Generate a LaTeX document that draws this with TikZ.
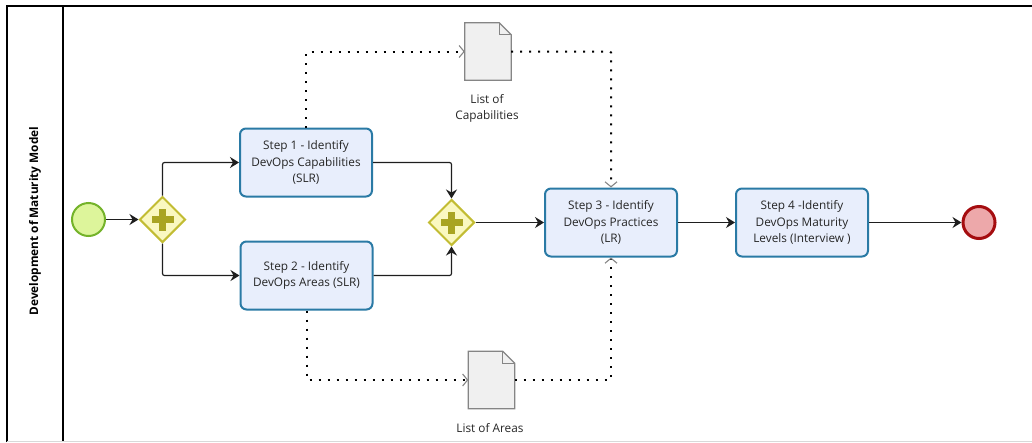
\documentclass[tikz,border=0pt]{standalone}
\usepackage{fontspec}
\setmainfont{Open Sans}
\usetikzlibrary{arrows.meta,shapes.geometric,calc}
\definecolor{taskfill}{HTML}{E8EEFC}
\definecolor{taskdraw}{HTML}{2A7AA5}
\definecolor{startfill}{HTML}{DDF59B}
\definecolor{startdraw}{HTML}{74B32A}
\definecolor{endfill}{HTML}{EDA8AA}
\definecolor{enddraw}{HTML}{A50D10}
\definecolor{gwfill}{HTML}{FAF8C0}
\definecolor{gwdraw}{HTML}{C2BC33}
\definecolor{plusc}{HTML}{A9A422}
\definecolor{docfill}{HTML}{F0F0F0}
\definecolor{docdraw}{HTML}{858585}
\definecolor{txt}{HTML}{262626}
\definecolor{linec}{HTML}{1E1E1E}
\tikzset{
  task/.style={rectangle, rounded corners=6pt, minimum width=132pt, minimum height=68pt,
    inner sep=0pt, align=center, fill=taskfill, draw=taskdraw, line width=2pt,
    font=\fontsize{11.8}{16.5}\selectfont, text=txt},
  startev/.style={circle, minimum size=33pt, inner sep=0pt, fill=startfill, draw=startdraw, line width=2pt},
  endev/.style={circle, minimum size=32pt, inner sep=0pt, fill=endfill, draw=enddraw, line width=3pt},
  gateway/.style={diamond, minimum width=46pt, minimum height=46pt, inner sep=0pt, fill=gwfill, draw=gwdraw, line width=2pt},
  docnode/.style={rectangle, minimum width=46pt, minimum height=57pt, inner sep=0pt},
  docline/.style={fill=docfill, draw=docdraw, line width=1.2pt},
  lbl/.style={align=center, font=\fontsize{11.8}{16.5}\selectfont, text=txt},
  flow/.style={draw=linec, line width=1.2pt, rounded corners=2pt, -{Stealth[length=9pt,width=11pt,inset=3pt]}},
  assoc/.style={draw=black, line width=2pt, dash pattern=on 2pt off 7pt, rounded corners=1pt,
    -{Straight Barb[length=5pt,width=12pt,line width=1.1pt,color=docdraw]}}
}
\newcommand{\docshape}[1]{%
  \draw[docline] (#1.south west) -- (#1.north west) -- ([xshift=-12pt]#1.north east)
     -- ([yshift=-12pt]#1.north east) -- (#1.south east) -- cycle;
  \draw[draw=docdraw, line width=1pt] ([xshift=-12pt]#1.north east) -- ([xshift=-12pt,yshift=-12pt]#1.north east) -- ([yshift=-12pt]#1.north east);
}
\newcommand{\plussign}[1]{%
  \fill[plusc] ([xshift=-11pt,yshift=-3.5pt]#1.center) rectangle ([xshift=11pt,yshift=3.5pt]#1.center);
  \fill[plusc] ([xshift=-3.5pt,yshift=-11pt]#1.center) rectangle ([xshift=3.5pt,yshift=11pt]#1.center);
}
\begin{document}
\begin{tikzpicture}[x=1pt,y=-1pt]
\useasboundingbox (0,0) rectangle (1032,442);
% frame
\draw[black, line width=1.3pt] (7,442) -- (7,6) -- (1032,6);
\draw[black, line width=1.3pt] (63,6) -- (63,442);
\draw[gray!30, line width=1pt] (7,441.5) -- (1032,441.5);
\node[rotate=90, font=\bfseries\fontsize{11.8}{14}\selectfont, text=black] (lane) at (35,221) {Development of Maturity Model};
% nodes
\node[startev] (start) at (88.5,219.5) {};
\node[gateway] (g1) at (162.5,219.5) {};
\plussign{g1}
\node[task] (s1) at (306,162.5) {Step 1 - Identify\\DevOps Capabilities\\(SLR)};
\node[task] (s2) at (306.5,275.5) {Step 2 - Identify\\DevOps Areas (SLR)};
\node[gateway] (g2) at (451.5,222.5) {};
\plussign{g2}
\node[task] (s3) at (611,222.5) {Step 3 - Identify\\DevOps Practices\\(LR)};
\node[task] (s4) at (802,222.5) {Step 4 -Identify\\DevOps Maturity\\Levels (Interview )};
\node[endev] (end) at (979,222.5) {};
\node[docnode] (d1) at (488,51.5) {};
\docshape{d1}
\node[lbl] (l1) at (487,108.5) {List of\\Capabilities};
\node[docnode] (d2) at (491.5,380) {};
\docshape{d2}
\node[lbl] (l2) at (490,428) {List of Areas};
% sequence flows
\draw[flow] (start) -- (g1);
\draw[flow] (g1.north) |- (s1.west);
\draw[flow] (g1.south) |- (s2.west);
\draw[flow] (s1.east) -| (g2.north);
\draw[flow] (s2.east) -| (g2.south);
\draw[flow] (g2.east) -- (g2.east -| s3.west);
\draw[flow] (s3.east) -- (s4.west);
\draw[flow] (s4.east) -- (end.west);
% associations
\draw[assoc] (s1.north) |- (d1.west);
\draw[assoc] (d1.east) -| (s3.north);
\draw[assoc] (s2.south) |- (d2.west);
\draw[assoc] (d2.east) -| (s3.south);
\end{tikzpicture}
\end{document}
